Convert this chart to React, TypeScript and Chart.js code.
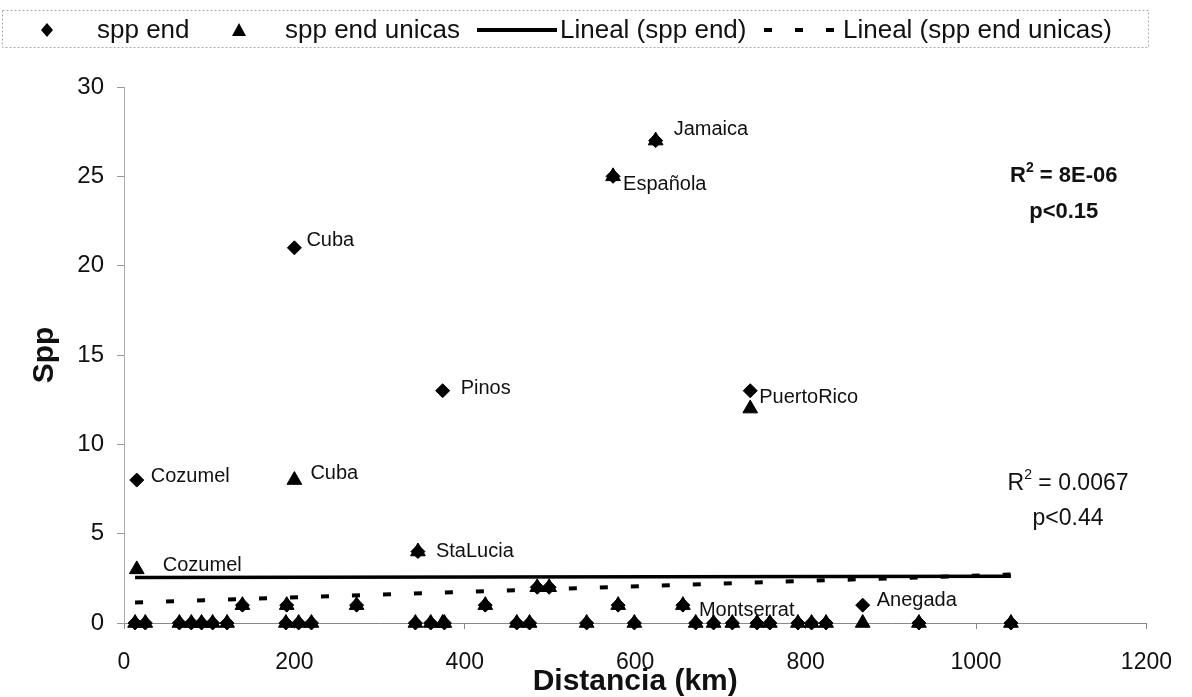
import React, { useEffect, useRef } from 'react';
import { Chart, registerables } from 'chart.js';

Chart.register(...registerables);

// ---- data ----
const distancia = [13, 15, 25, 65, 79, 91, 104, 121, 139, 190, 191, 200, 205, 220, 273, 342, 345, 360, 374, 376, 424, 461, 476, 485, 499, 543, 574, 580, 599, 624, 656, 671, 692, 714, 735, 743, 758, 791, 807, 824, 867, 933, 1041];
const sppEnd = [0, 8, 0, 0, 0, 0, 0, 0, 1, 0, 1, 21, 0, 0, 1, 0, 4, 0, 13, 0, 1, 0, 0, 2, 2, 0, 25, 1, 0, 27, 1, 0, 0, 0, 13, 0, 0, 0, 0, 0, 1, 0, 0];
const sppEndUnicas = [0, 3, 0, 0, 0, 0, 0, 0, 1, 0, 1, 8, 0, 0, 1, 0, 4, 0, 0, 0, 1, 0, 0, 2, 2, 0, 25, 1, 0, 27, 1, 0, 0, 0, 12, 0, 0, 0, 0, 0, 0, 0, 0];
const nombres = ['', 'Cozumel', '', '', '', '', '', '', '', '', '', 'Cuba', '', '', '', '', 'StaLucia', '', 'Pinos', '', '', '', '', '', '', '', 'Española', '', '', 'Jamaica', 'Montserrat', '', '', '', 'PuertoRico', '', '', '', '', '', 'Anegada', '', ''];
const etiquetasEnd = ['Cozumel', 'Cuba', 'Pinos', 'StaLucia', 'Española', 'Jamaica', 'PuertoRico', 'Montserrat', 'Anegada'];
const etiquetasUnicas = ['Cozumel', 'Cuba'];

// trend lines (Excel "Lineal") endpoints
const trendX = [13, 1041];
const trendEnd = [2.55, 2.62];
const trendUnicas = [1.15, 2.72];

const xTicks = [0, 200, 400, 600, 800, 1000, 1200];
const yTicks = [0, 5, 10, 15, 20, 25, 30];

// ---- label placement (pixel offsets from the marker) ----
const labelOffsets: Record<string, [number, number]> = {
  'end:Cozumel': [14, -4],
  'end:Cuba': [12, -7],
  'end:Pinos': [18, -2],
  'end:StaLucia': [18, 0],
  'end:Española': [10, 8],
  'end:Jamaica': [18, -11],
  'end:PuertoRico': [9, 7],
  'end:Montserrat': [16, 5],
  'end:Anegada': [14, -5],
  'uni:Cozumel': [26, -4],
  'uni:Cuba': [16, -7],
};

const FONT = 'Liberation Sans, Arial, sans-serif';

const overlayPlugin = {
  id: 'overlay',
  afterDatasetsDraw(chart: any) {
    const ctx = chart.ctx as CanvasRenderingContext2D;
    ctx.save();
    ctx.fillStyle = '#111';
    ctx.textAlign = 'left';
    ctx.textBaseline = 'middle';
    ctx.font = `20px ${FONT}`;
    const drawSeries = (dsIndex: number, key: string, list: string[]) => {
      const meta = chart.getDatasetMeta(dsIndex);
      nombres.forEach((n, i) => {
        if (!n || !list.includes(n)) return;
        const el = meta.data[i];
        const off = labelOffsets[`${key}:${n}`] || [12, 0];
        ctx.fillText(n, el.x + off[0], el.y + off[1]);
      });
    };
    drawSeries(0, 'end', etiquetasEnd);
    drawSeries(1, 'uni', etiquetasUnicas);

    // R² annotations
    const xs = chart.scales.x;
    const ys = chart.scales.y;
    const rText = (value: string, cx: number, cy: number, bold: boolean, size: number) => {
      const w = bold ? 'bold ' : '';
      ctx.font = `${w}${size}px ${FONT}`;
      const wR = ctx.measureText('R').width;
      const rest = ' = ' + value;
      const wRest = ctx.measureText(rest).width;
      ctx.font = `${w}${Math.round(size * 0.62)}px ${FONT}`;
      const w2 = ctx.measureText('2').width;
      const total = wR + w2 + wRest;
      let x = cx - total / 2;
      ctx.textAlign = 'left';
      ctx.font = `${w}${size}px ${FONT}`;
      ctx.fillText('R', x, cy);
      x += wR;
      ctx.font = `${w}${Math.round(size * 0.62)}px ${FONT}`;
      ctx.fillText('2', x, cy - size * 0.38);
      x += w2;
      ctx.font = `${w}${size}px ${FONT}`;
      ctx.fillText(rest, x, cy);
    };
    const cText = (t: string, cx: number, cy: number, bold: boolean, size: number) => {
      ctx.font = `${bold ? 'bold ' : ''}${size}px ${FONT}`;
      ctx.textAlign = 'center';
      ctx.fillText(t, cx, cy);
    };
    rText('8E-06', xs.getPixelForValue(1103), ys.getPixelForValue(25.0), true, 22);
    cText('p<0.15', xs.getPixelForValue(1103), ys.getPixelForValue(23.0), true, 22);
    rText('0.0067', xs.getPixelForValue(1108), ys.getPixelForValue(7.8), false, 23);
    cText('p<0.44', xs.getPixelForValue(1108), ys.getPixelForValue(5.85), false, 23);

    // axis titles
    ctx.fillStyle = '#111';
    cText('Distancia (km)', (chart.chartArea.left + chart.chartArea.right) / 2, 682, true, 30);
    ctx.save();
    ctx.translate(45, (chart.chartArea.top + chart.chartArea.bottom) / 2);
    ctx.rotate(-Math.PI / 2);
    cText('Spp', 0, 0, true, 30);
    ctx.restore();

    // legend
    const ly = 30;
    ctx.strokeStyle = '#aaa';
    ctx.lineWidth = 1;
    ctx.setLineDash([2, 2]);
    ctx.strokeRect(2.5, 10.5, 1146, 37);
    ctx.setLineDash([]);
    ctx.fillStyle = '#000';
    // diamond
    ctx.beginPath();
    ctx.moveTo(47, ly - 7);
    ctx.lineTo(53, ly);
    ctx.lineTo(47, ly + 7);
    ctx.lineTo(41, ly);
    ctx.closePath();
    ctx.fill();
    // triangle
    ctx.beginPath();
    ctx.moveTo(239, ly - 7);
    ctx.lineTo(246, ly + 6);
    ctx.lineTo(232, ly + 6);
    ctx.closePath();
    ctx.fill();
    // solid line
    ctx.strokeStyle = '#000';
    ctx.lineWidth = 4;
    ctx.beginPath();
    ctx.moveTo(477, ly);
    ctx.lineTo(557, ly);
    ctx.stroke();
    // dashed line
    ctx.setLineDash([8, 23]);
    ctx.beginPath();
    ctx.moveTo(764, ly);
    ctx.lineTo(840, ly);
    ctx.stroke();
    ctx.setLineDash([]);
    ctx.font = `26px ${FONT}`;
    ctx.textAlign = 'left';
    ctx.fillStyle = '#111';
    ctx.fillText('spp end', 97, ly + 1);
    ctx.fillText('spp end unicas', 285, ly + 1);
    ctx.fillText('Lineal (spp end)', 560, ly + 1);
    ctx.fillText('Lineal (spp end unicas)', 843, ly + 1);
    ctx.restore();
  },
};

export default function App() {
  const canvasRef = useRef<HTMLCanvasElement | null>(null);

  useEffect(() => {
    document.body.style.margin = '0';
    const canvas = canvasRef.current;
    if (!canvas) return;
    const chart = new Chart(canvas, {
      type: 'scatter',
      data: {
        datasets: [
          {
            label: 'spp end',
            data: distancia.map((x, i) => ({ x, y: sppEnd[i] })),
            pointStyle: 'rectRot',
            pointRadius: 7,
            backgroundColor: '#000',
            borderColor: '#000',
            borderWidth: 1,
            clip: false,
            order: 1,
          },
          {
            label: 'spp end unicas',
            data: distancia.map((x, i) => ({ x, y: sppEndUnicas[i] })),
            pointStyle: 'triangle',
            pointRadius: 8.5,
            backgroundColor: '#000',
            borderColor: '#000',
            borderWidth: 1,
            clip: false,
            order: 0,
          },
          {
            label: 'Lineal (spp end)',
            data: trendX.map((x, i) => ({ x, y: trendEnd[i] })),
            showLine: true,
            pointRadius: 0,
            borderColor: '#000',
            borderWidth: 3.5,
            order: 2,
          },
          {
            label: 'Lineal (spp end unicas)',
            data: trendX.map((x, i) => ({ x, y: trendUnicas[i] })),
            showLine: true,
            pointRadius: 0,
            borderColor: '#000',
            borderWidth: 4,
            borderDash: [8, 23],
            borderCapStyle: 'butt',
            order: 3,
          },
        ],
      },
      options: {
        animation: false,
        responsive: false,
        maintainAspectRatio: false,
        events: [],
        layout: { padding: { top: 87, right: 38, left: 0, bottom: 0 } },
        plugins: {
          legend: { display: false },
          tooltip: { enabled: false },
          title: { display: false },
        },
        scales: {
          x: {
            type: 'linear',
            min: 0,
            max: 1200,
            afterBuildTicks: (s: any) => { s.ticks = xTicks.map((v) => ({ value: v })); },
            ticks: { font: { family: FONT, size: 23 }, color: '#111', padding: 20, maxRotation: 0, callback: (v: any) => String(v) },
            grid: { drawOnChartArea: false, drawTicks: true, tickLength: 6, color: '#888' },
            border: { display: true, color: '#888', width: 1 },
            afterFit: (s: any) => { s.height = 74; },
          },
          y: {
            type: 'linear',
            min: 0,
            max: 30,
            afterBuildTicks: (s: any) => { s.ticks = yTicks.map((v) => ({ value: v })); },
            ticks: { font: { family: FONT, size: 24 }, color: '#111', padding: 13, callback: (v: any) => String(v) },
            grid: { drawOnChartArea: false, drawTicks: true, tickLength: 7, color: '#999' },
            border: { display: true, color: '#aaa', width: 1 },
            afterFit: (s: any) => { s.width = 124; },
          },
        },
      },
      plugins: [overlayPlugin],
    } as any);
    return () => chart.destroy();
  }, []);

  return (
    <div style={{ width: 1192, height: 697, position: 'relative', background: '#fff' }}>
      <canvas ref={canvasRef} width={1192} height={697} style={{ width: 1192, height: 697, display: 'block' }} />
    </div>
  );
}
